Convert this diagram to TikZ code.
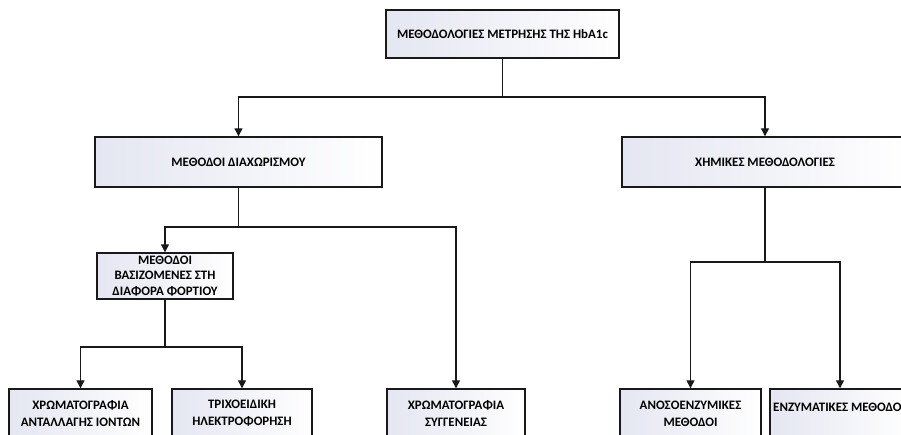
\documentclass[tikz,border=0pt]{standalone}
\usepackage{fontspec}
\setmainfont{Carlito}[BoldFont={Carlito Bold}]
\usetikzlibrary{arrows.meta}
\definecolor{boxleft}{RGB}{228,230,241}
\definecolor{lineclr}{RGB}{25,25,25}
\tikzset{
  box/.style={draw=lineclr, line width=1.4pt, left color=boxleft, right color=white,
    align=center, inner sep=0pt, font=\bfseries\fontsize{12.9}{17}\selectfont},
  conn/.style={draw=lineclr, line width=1.3pt},
  arr/.style={conn, -{Triangle[length=8pt,width=8pt]}},
  lbl/.style={font=\bfseries\fontsize{12.9}{17}\selectfont, inner sep=0pt}
}
\begin{document}
\begin{tikzpicture}[x=1pt,y=-1pt]
\useasboundingbox (0,0) rectangle (901,435);
\clip (0,0) rectangle (901,435);
\node[box, minimum width=233pt, minimum height=48pt] (top) at (502.5,34) {ΜΕΘΟΔΟΛΟΓΙΕΣ ΜΕΤΡΗΣΗΣ ΤΗΣ HbA1c};
\node[box, minimum width=287pt, minimum height=50pt] (diax) at (238.5,162) {ΜΕΘΟΔΟΙ ΔΙΑΧΩΡΙΣΜΟΥ};
\node[box, minimum width=286pt, minimum height=50pt] (xhm) at (765,162) {ΧΗΜΙΚΕΣ ΜΕΘΟΔΟΛΟΓΙΕΣ};
\node[box, minimum width=136pt, minimum height=46pt, font=\bfseries\fontsize{12.9}{15.8}\selectfont] (fort) at (165,276) {ΜΕΘΟΔΟΙ\\ΒΑΣΙΖΟΜΕΝΕΣ ΣΤΗ\\ΔΙΑΦΟΡΑ ΦΟΡΤΙΟΥ};
\node[box, minimum width=143pt, minimum height=49pt] (ionx) at (80.5,413.5) {ΧΡΩΜΑΤΟΓΡΑΦΙΑ\\ΑΝΤΑΛΛΑΓΗΣ ΙΟΝΤΩΝ};
\node[box, minimum width=140pt, minimum height=49pt] (trix) at (242,413.5) {ΤΡΙΧΟΕΙΔΙΚΗ\\ΗΛΕΚΤΡΟΦΟΡΗΣΗ};
\node[box, minimum width=138pt, minimum height=49pt] (syg) at (456,413.5) {ΧΡΩΜΑΤΟΓΡΑΦΙΑ\\ΣΥΓΓΕΝΕΙΑΣ};
\node[box, minimum width=141pt, minimum height=49pt] (anos) at (690.5,413.5) {ΑΝΟΣΟΕΝΖΥΜΙΚΕΣ\\ΜΕΘΟΔΟΙ};
\node[box, minimum width=140pt, minimum height=49pt] (enz) at (840,413.5) {};
\node[lbl, anchor=west] (enzt) at (773,407) {ΕΝΖΥΜΑΤΙΚΕΣ ΜΕΘΟΔΟΙ};
\coordinate (j1) at (502.5,97);
\coordinate (j2) at (238.5,227);
\coordinate (j3) at (165,347);
\coordinate (j4) at (765,262);
\draw[conn] (top.south) -- (j1);
\draw[arr] (j1) -| (diax.north);
\draw[arr] (j1) -| (xhm.north);
\draw[conn] (diax.south) -- (j2);
\draw[arr] (j2) -| (fort.north);
\draw[arr] (j2) -| (syg.north);
\draw[conn] (fort.south) -- (j3);
\draw[arr] (j3) -| (ionx.north);
\draw[arr] (j3) -| (trix.north);
\draw[conn] (xhm.south) -- (j4);
\draw[arr] (j4) -| (anos.north);
\draw[arr] (j4) -| (enz.north);
\end{tikzpicture}
\end{document}
